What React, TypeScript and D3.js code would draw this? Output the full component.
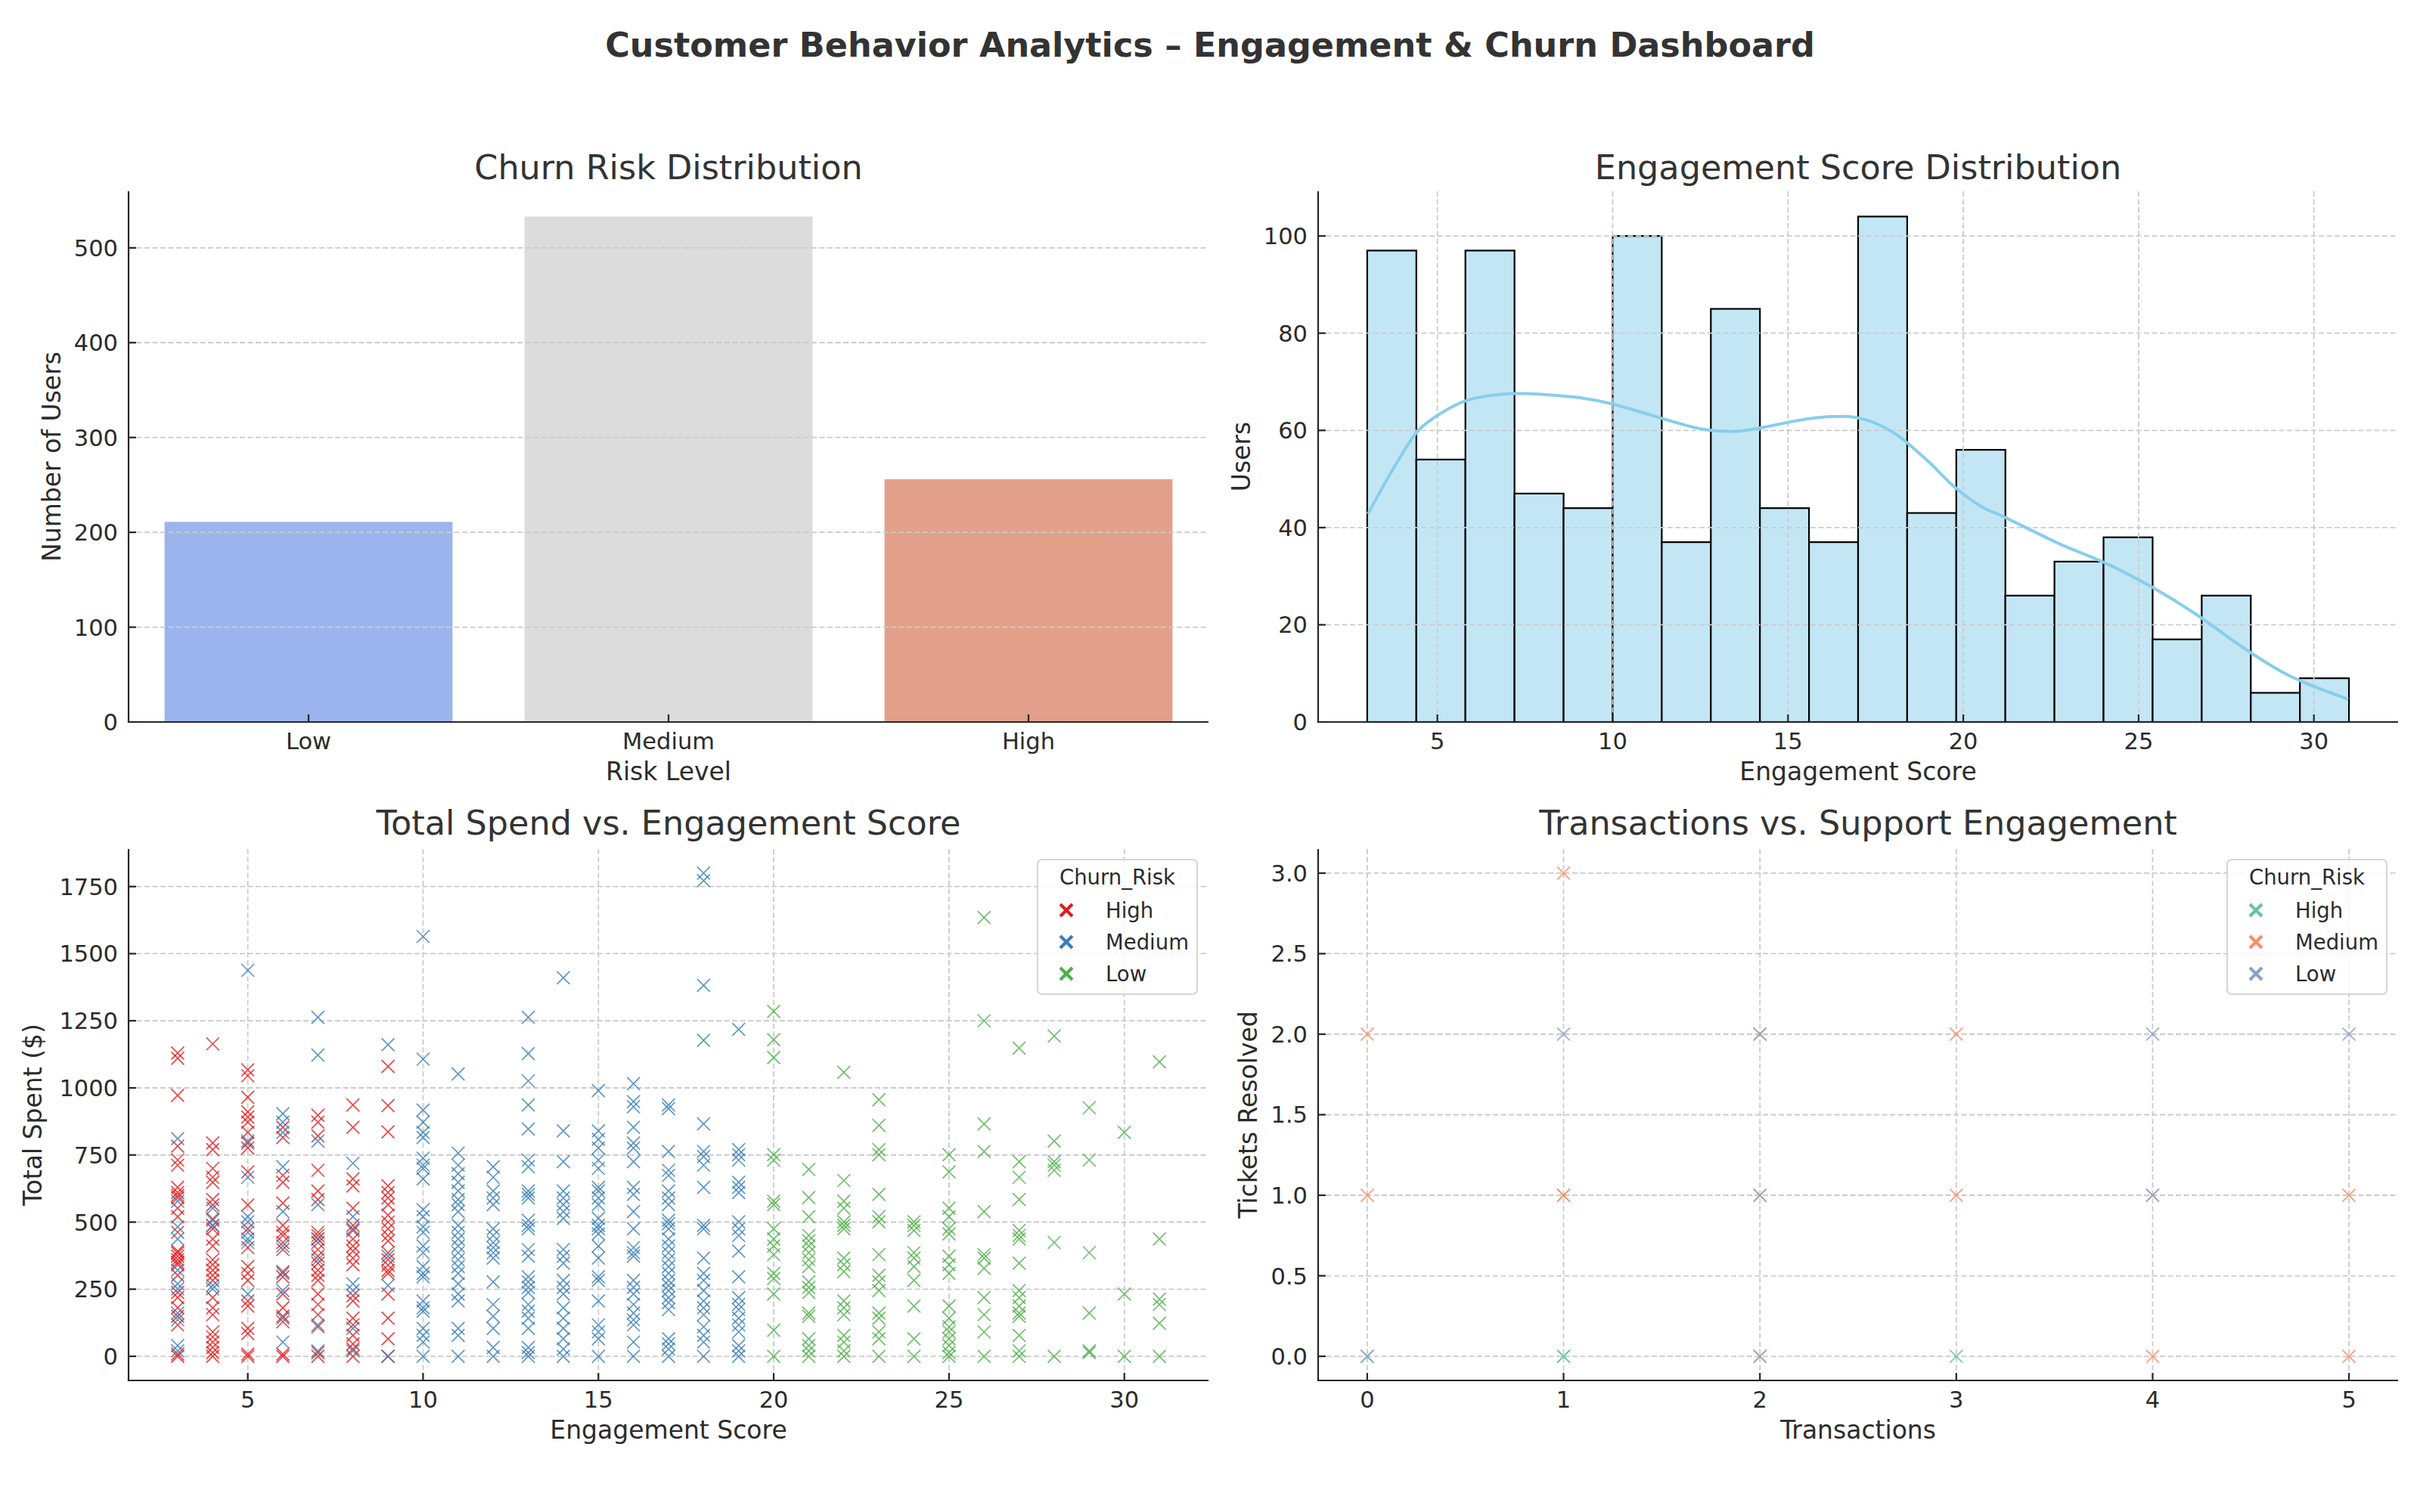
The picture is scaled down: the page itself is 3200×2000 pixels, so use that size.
import { useEffect, useRef } from "react";
import * as d3 from "d3";

// ---- data ----
const riskLevels = ["Low", "Medium", "High"];
const riskCounts = [211, 533, 256];
const riskColors = ["#9bb4ee", "#dcdcdc", "#e2a08a"];

const histCounts = [97, 54, 97, 47, 44, 100, 37, 85, 44, 37, 104, 43, 56, 26, 33, 38, 17, 26, 6, 9];
const scoreRange = [3, 31];

const kdeX = [3.02, 3.8, 4.46, 5.12, 5.78, 6.43, 7.32, 8.2, 9.09, 9.96, 10.84, 11.72, 12.6, 13.49, 14.36, 15.24, 16.12, 16.79, 17.45, 18.1, 18.99, 19.76, 20.52, 21.19, 22.73, 24.05, 25.37, 26.69, 28.0, 29.33, 30.98];
const kdeY = [42.8, 52.8, 60, 63.6, 66, 67.1, 67.6, 67.3, 66.7, 65.5, 63.7, 61.8, 60.2, 59.8, 60.7, 62, 62.8, 62.8, 61.6, 59.1, 53.7, 48.3, 44.3, 42.1, 36.7, 32.7, 27.8, 21.9, 15.2, 9.4, 4.7];

// total spend per engagement score, grouped by churn risk
const highSpend: Record<number, number[]> = {
    3: [1130, 1110, 972, 783, 731, 712, 629, 610, 600, 591, 552, 520, 462, 392, 385, 373, 360, 350, 341, 302, 238, 219, 181, 149, 117, 8, 0],
    4: [1164, 795, 770, 700, 667, 648, 584, 564, 512, 486, 475, 437, 411, 360, 341, 321, 302, 283, 219, 181, 155, 91, 72, 53, 33, 14, 0],
    5: [1067, 1045, 965, 911, 891, 872, 834, 795, 776, 687, 564, 475, 405, 334, 309, 283, 206, 187, 104, 85, 8, 0],
    6: [853, 815, 674, 648, 571, 488, 462, 450, 424, 398, 315, 296, 232, 181, 149, 129, 8, 0],
    7: [898, 872, 821, 693, 616, 584, 462, 450, 437, 424, 398, 373, 347, 321, 302, 283, 232, 193, 155, 110, 14, 0],
    8: [936, 853, 661, 635, 552, 488, 469, 437, 411, 392, 366, 341, 226, 206, 142, 117, 78, 46, 27, 0],
    9: [1080, 934, 836, 635, 610, 590, 565, 526, 500, 475, 450, 430, 386, 360, 340, 320, 309, 232, 142, 65, 0],
};
const mediumSpend: Record<number, number[]> = {
    3: [811, 578, 482, 437, 321, 270, 251, 161, 136, 40, 20],
    4: [552, 507, 488, 264, 251],
    5: [1438, 802, 667, 520, 501, 462, 437, 424, 232],
    6: [904, 872, 834, 706, 539, 411, 309, 245, 142, 53],
    7: [1263, 1122, 802, 565, 437, 360, 117, 20],
    8: [719, 520, 475, 270, 245, 104, 20],
    9: [1161, 373, 264, 0],
    10: [1564, 1107, 917, 872, 834, 815, 738, 712, 700, 661, 546, 520, 482, 462, 411, 386, 334, 309, 296, 206, 181, 168, 104, 78, 53, 0],
    11: [1052, 757, 712, 680, 648, 616, 584, 565, 539, 488, 462, 437, 411, 386, 360, 334, 309, 270, 232, 206, 104, 78, 0],
    12: [706, 667, 616, 590, 565, 475, 450, 424, 405, 386, 366, 277, 193, 149, 104, 33, 0],
    13: [1263, 1128, 1026, 936, 847, 731, 706, 616, 603, 590, 507, 488, 475, 398, 373, 296, 277, 257, 238, 193, 168, 142, 104, 33, 14, 0],
    14: [1410, 840, 725, 616, 590, 565, 539, 514, 398, 373, 347, 283, 257, 232, 181, 142, 104, 65, 27, 0],
    15: [990, 840, 808, 776, 731, 700, 629, 616, 590, 565, 514, 488, 475, 456, 411, 366, 296, 283, 206, 117, 91, 65, 0],
    16: [1016, 949, 930, 853, 795, 776, 725, 629, 603, 539, 475, 405, 386, 373, 283, 257, 232, 193, 161, 136, 117, 53, 0],
    17: [936, 923, 763, 693, 674, 616, 590, 565, 507, 494, 475, 437, 411, 386, 360, 334, 309, 283, 264, 245, 219, 200, 174, 65, 46, 27, 0],
    18: [1800, 1772, 1382, 1177, 866, 763, 744, 712, 629, 488, 475, 366, 309, 283, 245, 206, 181, 155, 110, 78, 53, 0],
    19: [1218, 770, 751, 731, 648, 629, 610, 501, 475, 450, 392, 296, 219, 193, 174, 142, 117, 91, 40, 20, 0],
};
const lowSpend: Record<number, number[]> = {
    20: [1285, 1180, 1113, 751, 731, 578, 565, 475, 437, 411, 379, 309, 290, 232, 97, 0],
    21: [696, 591, 520, 450, 430, 411, 386, 360, 334, 277, 257, 238, 161, 149, 65, 40, 20, 0],
    22: [1058, 655, 578, 552, 501, 488, 475, 366, 341, 315, 206, 181, 155, 78, 53, 20, 0],
    23: [956, 860, 770, 751, 603, 520, 501, 379, 302, 277, 245, 161, 142, 91, 65, 0],
    24: [501, 488, 469, 386, 366, 334, 283, 187, 65, 0],
    25: [751, 687, 552, 520, 475, 456, 373, 341, 309, 187, 142, 110, 91, 65, 40, 14, 0],
    26: [1635, 1250, 866, 763, 539, 379, 366, 328, 219, 155, 91, 0],
    27: [1148, 725, 667, 584, 469, 450, 437, 347, 245, 219, 187, 161, 149, 78, 20, 0],
    28: [1193, 802, 725, 712, 693, 424, 0],
    29: [926, 731, 386, 161, 20, 14],
    30: [834, 232, 0],
    31: [1097, 437, 213, 193, 123, 0],
};

// [transactions, tickets resolved]
const txHigh: [number, number][] = [[0, 0], [1, 0], [1, 0], [3, 0]];
const txMedium: [number, number][] = [
    [0, 2], [0, 1], [1, 3], [1, 1], [1, 1], [2, 2], [2, 1], [2, 0],
    [3, 2], [3, 1], [4, 1], [4, 0], [5, 1], [5, 0],
];
const txLow: [number, number][] = [[0, 0], [1, 2], [2, 2], [2, 1], [2, 0], [4, 2], [4, 1], [5, 2]];

const groupNames = ["High", "Medium", "Low"];
const set1 = ["#e41a1c", "#377eb8", "#4daf4a"];
const set2 = ["#66c2a5", "#fc8d62", "#8da0cb"];

// ---- layout ----
const W = 3200;
const H = 2000;
const FONT = "DejaVu Sans, Verdana, sans-serif";
const TXT = "#2b2b2b";
const TICK_FS = 30.5;
const LABEL_FS = 33;
const TITLE_FS = 44.5;

type Box = { x0: number; x1: number; y0: number; y1: number };
type G = d3.Selection<SVGGElement, unknown, null, undefined>;
type Tick = { p: number; label: string };

const boxTL: Box = { x0: 170, x1: 1598, y0: 253, y1: 955 };
const boxTR: Box = { x0: 1743, x1: 3171, y0: 253, y1: 955 };
const boxBL: Box = { x0: 170, x1: 1598, y0: 1123, y1: 1826 };
const boxBR: Box = { x0: 1743, x1: 3171, y0: 1123, y1: 1826 };

const toPairs = (m: Record<number, number[]>) =>
    Object.entries(m).flatMap(([s, vs]) => vs.map((v) => [+s, v] as [number, number]));

const padded = (lo: number, hi: number) => {
    const p = (hi - lo) * 0.05;
    return [lo - p, hi + p];
};

const xMark = (r: number) => `M${-r},${-r}L${r},${r}M${-r},${r}L${r},${-r}`;

function drawGrid(g: G, box: Box, xs: number[], ys: number[]) {
    const grid = g.append("g").attr("stroke", "#cbcbcb").attr("stroke-width", 1.8).attr("stroke-dasharray", "7,3.5");
    xs.forEach((p) => grid.append("line").attr("x1", p).attr("x2", p).attr("y1", box.y0).attr("y2", box.y1));
    ys.forEach((p) => grid.append("line").attr("x1", box.x0).attr("x2", box.x1).attr("y1", p).attr("y2", p));
}

function drawFrame(
    g: G,
    box: Box,
    xt: Tick[],
    yt: Tick[],
    title: string,
    xLabel: string,
    yLabel: string,
    yLabelX: number,
    titleGap: number
) {
    const ax = g.append("g").attr("stroke", "#262626").attr("stroke-width", 2.2);
    ax.append("line").attr("x1", box.x0).attr("x2", box.x0).attr("y1", box.y0).attr("y2", box.y1 + 1.1);
    ax.append("line").attr("x1", box.x0 - 1.1).attr("x2", box.x1).attr("y1", box.y1).attr("y2", box.y1);
    xt.forEach((t) => ax.append("line").attr("x1", t.p).attr("x2", t.p).attr("y1", box.y1).attr("y2", box.y1 - 10));
    yt.forEach((t) => ax.append("line").attr("x1", box.x0).attr("x2", box.x0 + 10).attr("y1", t.p).attr("y2", t.p));

    const tx = g.append("g").attr("font-family", FONT).attr("fill", TXT);
    tx.selectAll("text.xt")
        .data(xt)
        .join("text")
        .attr("x", (d) => d.p)
        .attr("y", box.y1 + 36)
        .attr("text-anchor", "middle")
        .attr("font-size", TICK_FS)
        .text((d) => d.label);
    tx.selectAll("text.yt")
        .data(yt)
        .join("text")
        .attr("x", box.x0 - 14)
        .attr("y", (d) => d.p)
        .attr("dy", "0.36em")
        .attr("text-anchor", "end")
        .attr("font-size", TICK_FS)
        .text((d) => d.label);

    const cx = (box.x0 + box.x1) / 2;
    const cy = (box.y0 + box.y1) / 2;
    tx.append("text")
        .attr("x", cx)
        .attr("y", box.y0 - titleGap)
        .attr("text-anchor", "middle")
        .attr("font-size", TITLE_FS)
        .attr("fill", "#333333")
        .text(title);
    tx.append("text")
        .attr("x", cx)
        .attr("y", box.y1 + 77)
        .attr("text-anchor", "middle")
        .attr("font-size", LABEL_FS)
        .text(xLabel);
    tx.append("text")
        .attr("transform", `translate(${yLabelX},${cy}) rotate(-90)`)
        .attr("text-anchor", "middle")
        .attr("font-size", LABEL_FS)
        .text(yLabel);
}

function drawLegend(g: G, xRight: number, yTop: number, colors: string[]) {
    const w = 211;
    const h = 178;
    const x0 = xRight - w;
    const lg = g.append("g");
    lg.append("rect")
        .attr("x", x0)
        .attr("y", yTop)
        .attr("width", w)
        .attr("height", h)
        .attr("rx", 6)
        .attr("fill", "#ffffff")
        .attr("fill-opacity", 0.8)
        .attr("stroke", "#d6d6d6")
        .attr("stroke-width", 2.2);
    lg.append("text")
        .attr("x", x0 + w / 2)
        .attr("y", yTop + 33)
        .attr("text-anchor", "middle")
        .attr("font-family", FONT)
        .attr("font-size", 27.5)
        .attr("fill", TXT)
        .text("Churn_Risk");
    groupNames.forEach((name, i) => {
        const cy = yTop + 67 + i * 42;
        lg.append("path")
            .attr("transform", `translate(${x0 + 38},${cy})`)
            .attr("d", xMark(8))
            .attr("fill", "none")
            .attr("stroke", colors[i])
            .attr("stroke-width", 4.2);
        lg.append("text")
            .attr("x", x0 + 90)
            .attr("y", cy + 10)
            .attr("font-family", FONT)
            .attr("font-size", 27.5)
            .attr("fill", TXT)
            .text(name);
    });
}

function drawRiskBars(g: G) {
    const box = boxTL;
    const x = d3.scaleBand().domain(riskLevels).range([box.x0, box.x1]).paddingInner(0.2).paddingOuter(0.1);
    const y = d3
        .scaleLinear()
        .domain([0, (d3.max(riskCounts) ?? 0) * 1.05])
        .range([box.y1, box.y0]);

    g.append("g")
        .selectAll("rect")
        .data(riskLevels)
        .join("rect")
        .attr("x", (d) => x(d)!)
        .attr("y", (_, i) => y(riskCounts[i]))
        .attr("width", x.bandwidth())
        .attr("height", (_, i) => y(0) - y(riskCounts[i]))
        .attr("fill", (_, i) => riskColors[i]);

    const yTicks = y.ticks(5);
    drawGrid(g, box, [], yTicks.map((t) => y(t)));
    drawFrame(
        g,
        box,
        riskLevels.map((d) => ({ p: x(d)! + x.bandwidth() / 2, label: d })),
        yTicks.map((t) => ({ p: y(t), label: String(t) })),
        "Churn Risk Distribution",
        "Risk Level",
        "Number of Users",
        80,
        16
    );
}

function drawHistogram(g: G) {
    const box = boxTR;
    const x = d3.scaleLinear().domain(padded(scoreRange[0], scoreRange[1])).range([box.x0, box.x1]);
    const y = d3
        .scaleLinear()
        .domain([0, (d3.max(histCounts) ?? 0) * 1.05])
        .range([box.y1, box.y0]);
    const bw = (scoreRange[1] - scoreRange[0]) / histCounts.length;

    g.append("g")
        .selectAll("rect")
        .data(histCounts)
        .join("rect")
        .attr("x", (_, i) => x(scoreRange[0] + i * bw))
        .attr("y", (d) => y(d))
        .attr("width", x(scoreRange[0] + bw) - x(scoreRange[0]))
        .attr("height", (d) => y(0) - y(d))
        .attr("fill", "#c3e6f5")
        .attr("stroke", "#000000")
        .attr("stroke-width", 2.2);

    const xTicks = x.ticks(6);
    const yTicks = y.ticks(6);
    drawGrid(
        g,
        box,
        xTicks.map((t) => x(t)),
        yTicks.map((t) => y(t))
    );

    const line = d3
        .line<number>()
        .x((d) => x(d))
        .y((_, i) => y(kdeY[i]))
        .curve(d3.curveCatmullRom.alpha(0.5));
    g.append("path")
        .attr("d", line(kdeX))
        .attr("fill", "none")
        .attr("stroke", "#87ceeb")
        .attr("stroke-width", 4);

    drawFrame(
        g,
        box,
        xTicks.map((t) => ({ p: x(t), label: String(t) })),
        yTicks.map((t) => ({ p: y(t), label: String(t) })),
        "Engagement Score Distribution",
        "Engagement Score",
        "Users",
        1653,
        16
    );
}

function drawSpendScatter(g: G) {
    const box = boxBL;
    const groups = [toPairs(highSpend), toPairs(mediumSpend), toPairs(lowSpend)];
    const all = groups.flat();
    const x = d3.scaleLinear().domain(padded(scoreRange[0], scoreRange[1])).range([box.x0, box.x1]);
    const y = d3
        .scaleLinear()
        .domain(padded(0, d3.max(all, (d) => d[1]) ?? 0))
        .range([box.y1, box.y0]);

    const xTicks = x.ticks(6);
    const yTicks = d3.range(0, 1751, 250);
    drawGrid(
        g,
        box,
        xTicks.map((t) => x(t)),
        yTicks.map((t) => y(t))
    );

    groups.forEach((pts, gi) => {
        g.append("g")
            .selectAll("path")
            .data(pts)
            .join("path")
            .attr("transform", (d) => `translate(${x(d[0])},${y(d[1])})`)
            .attr("d", xMark(8.5))
            .attr("fill", "none")
            .attr("stroke", set1[gi])
            .attr("stroke-width", 1.7)
            .attr("opacity", 0.8);
    });

    drawFrame(
        g,
        box,
        xTicks.map((t) => ({ p: x(t), label: String(t) })),
        yTicks.map((t) => ({ p: y(t), label: String(t) })),
        "Total Spend vs. Engagement Score",
        "Engagement Score",
        "Total Spent ($)",
        55,
        19
    );
    drawLegend(g, 1583, 1137, set1);
}

function drawSupportScatter(g: G) {
    const box = boxBR;
    const groups = [txHigh, txMedium, txLow];
    const all = groups.flat();
    const x = d3
        .scaleLinear()
        .domain(padded(d3.min(all, (d) => d[0]) ?? 0, d3.max(all, (d) => d[0]) ?? 0))
        .range([box.x0, box.x1]);
    const y = d3
        .scaleLinear()
        .domain(padded(d3.min(all, (d) => d[1]) ?? 0, d3.max(all, (d) => d[1]) ?? 0))
        .range([box.y1, box.y0]);

    const xTicks = d3.range(0, 6);
    const yTicks = d3.range(0, 3.01, 0.5);
    drawGrid(
        g,
        box,
        xTicks.map((t) => x(t)),
        yTicks.map((t) => y(t))
    );

    groups.forEach((pts, gi) => {
        g.append("g")
            .selectAll("path")
            .data(pts)
            .join("path")
            .attr("transform", (d) => `translate(${x(d[0])},${y(d[1])})`)
            .attr("d", xMark(8.5))
            .attr("fill", "none")
            .attr("stroke", set2[gi])
            .attr("stroke-width", 1.8)
            .attr("opacity", 0.85);
    });

    const fmt = d3.format(".1f");
    drawFrame(
        g,
        box,
        xTicks.map((t) => ({ p: x(t), label: String(t) })),
        yTicks.map((t) => ({ p: y(t), label: fmt(t) })),
        "Transactions vs. Support Engagement",
        "Transactions",
        "Tickets Resolved",
        1662,
        19
    );
    drawLegend(g, 3156, 1137, set2);
}

export default function App() {
    const ref = useRef<SVGSVGElement | null>(null);

    useEffect(() => {
        if (!ref.current) return;
        const svg = d3.select(ref.current);
        svg.selectAll("*").remove();

        svg.append("rect").attr("width", W).attr("height", H).attr("fill", "#ffffff");
        svg.append("text")
            .attr("x", W / 2)
            .attr("y", 75)
            .attr("text-anchor", "middle")
            .attr("font-family", FONT)
            .attr("font-weight", "bold")
            .attr("font-size", 44.5)
            .attr("fill", "#333333")
            .text("Customer Behavior Analytics – Engagement & Churn Dashboard");

        drawRiskBars(svg.append("g"));
        drawHistogram(svg.append("g"));
        drawSpendScatter(svg.append("g"));
        drawSupportScatter(svg.append("g"));
    }, []);

    return (
        <svg
            ref={ref}
            width={W}
            height={H}
            style={{ position: "absolute", left: 0, top: 0, display: "block" }}
        />
    );
}
